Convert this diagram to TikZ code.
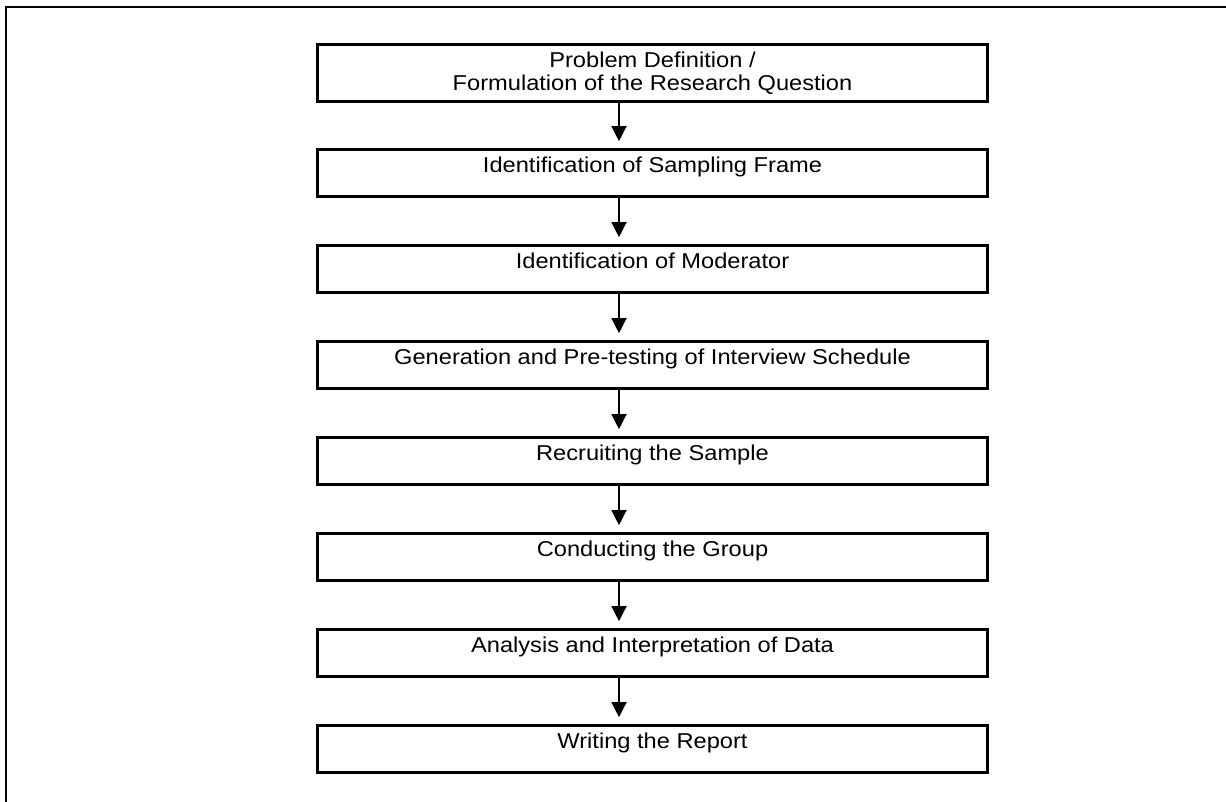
\documentclass[tikz,border=0pt]{standalone}
\usepackage{fontspec}
\setmainfont{Liberation Sans}[FakeStretch=1.1]
\usetikzlibrary{arrows.meta}

\begin{document}
\begin{tikzpicture}[x=0.5pt, y=-0.5pt,
  stepbox/.style={draw, line width=1.7pt, minimum width=335pt, inner sep=0pt, anchor=north, align=center, font=\fontsize{10.75pt}{11.65pt}\selectfont},
  oneline/.style={minimum height=23.5pt, text height=11.25pt, text depth=12.25pt},
  flow/.style={-{Triangle[width=7.5pt, length=7.5pt]}, line width=0.65pt, shorten >=3.4pt}]
  \useasboundingbox (0,0) rectangle (1226,802);
  \draw[line width=1.2pt] (6,802) -- (6,7) -- (1226,7);
  \node[stepbox, minimum height=28.6pt] (P) at (652.5,42.8) {Problem Definition /\\Formulation of the Research Question};
  \node[stepbox, oneline] (S) at (652.5,148) {Identification of Sampling Frame};
  \node[stepbox, oneline] (M) at (652.5,244) {Identification of Moderator};
  \node[stepbox, oneline] (G) at (652.5,340) {Generation and Pre-testing of Interview Schedule};
  \node[stepbox, oneline] (R) at (652.5,436) {Recruiting the Sample};
  \node[stepbox, oneline] (C) at (652.5,532) {Conducting the Group};
  \node[stepbox, oneline] (A) at (652.5,628) {Analysis and Interpretation of Data};
  \node[stepbox, oneline] (W) at (652.5,724) {Writing the Report};
  \draw[flow] ([xshift=-16.75pt]P.south) -- ([xshift=-16.75pt]S.north);
  \draw[flow] ([xshift=-16.75pt]S.south) -- ([xshift=-16.75pt]M.north);
  \draw[flow] ([xshift=-16.75pt]M.south) -- ([xshift=-16.75pt]G.north);
  \draw[flow] ([xshift=-16.75pt]G.south) -- ([xshift=-16.75pt]R.north);
  \draw[flow] ([xshift=-16.75pt]R.south) -- ([xshift=-16.75pt]C.north);
  \draw[flow] ([xshift=-16.75pt]C.south) -- ([xshift=-16.75pt]A.north);
  \draw[flow] ([xshift=-16.75pt]A.south) -- ([xshift=-16.75pt]W.north);
\end{tikzpicture}
\end{document}
